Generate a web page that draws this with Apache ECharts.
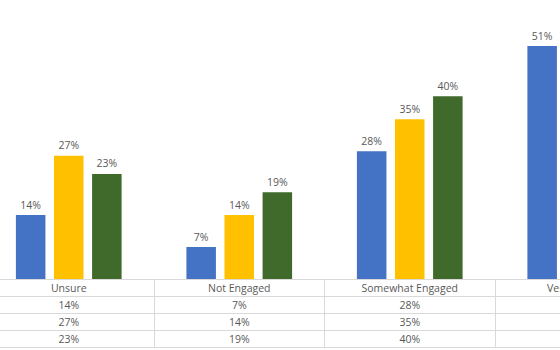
<!DOCTYPE html>
<html>
<head>
<meta charset="utf-8">
<script src="https://cdn.jsdelivr.net/npm/echarts@6/dist/echarts.min.js"></script>
<style>
  html, body { margin: 0; padding: 0; background: #fff; overflow: hidden; width: 560px; height: 350px; }
  /* the chart is wider than the window; only its middle part shows */
  #chart { position: absolute; left: -60px; top: 0; width: 736px; height: 350px; }
</style>
</head>
<body>
<div id="chart"></div>
<script>
// engagement levels and the share of each group per level (percent)
const categories = ['Unsure', 'Not Engaged', 'Somewhat Engaged', 'Very Engaged'];
const seriesNames = ['Group 1', 'Group 2', 'Group 3'];
const group1 = [14, 7, 28, 51];
const group2 = [27, 14, 35, 24];
const group3 = [23, 19, 40, 18];
const colors = ['#4472C4', '#FFC000', '#3F6A2B'];

const values = [group1, group2, group3];
const textColor = '#595959';
const lineColor = '#D9D9D9';
const font = 'Open Sans';
const rowH = 17;

// data table below the plot: one category axis per row
const tableAxes = [];
for (let r = 0; r <= 4; r++) {
  const rowData = r === 0 ? categories : (r <= 3 ? values[r - 1] : categories);
  tableAxes.push({
    type: 'category',
    gridIndex: 0,
    position: 'bottom',
    offset: r * rowH,
    data: categories,
    axisLine: { show: true, lineStyle: { color: lineColor, width: 1 } },
    axisTick: r === 0
      ? { show: true, length: rowH * 4, lineStyle: { color: lineColor, width: 1 } }
      : { show: false },
    axisLabel: r <= 3 ? {
      show: true,
      margin: 3,
      interval: 0,
      color: textColor,
      fontFamily: font,
      fontSize: 10.5,
      lineHeight: 11,
      formatter: (val, idx) => r === 0 ? val : rowData[idx] + '%'
    } : { show: false },
    splitLine: { show: false }
  });
}

const chart = echarts.init(document.getElementById('chart'), null, { renderer: 'svg' });
chart.setOption({
  animation: false,
  backgroundColor: '#fff',
  grid: { left: 43.5, right: 10.5, top: 5, bottom: 71, containLabel: false },
  xAxis: tableAxes,
  yAxis: {
    type: 'value', min: 0, max: 60,
    axisLine: { show: false }, axisTick: { show: false },
    axisLabel: { show: false }, splitLine: { show: false }
  },
  series: seriesNames.map((name, i) => ({
    name,
    type: 'bar',
    xAxisIndex: 0,
    data: values[i],
    barCategoryGap: '38%',
    barGap: '29%',
    itemStyle: { color: colors[i] },
    label: {
      show: true,
      position: 'top',
      distance: 5,
      formatter: '{c}%',
      color: textColor,
      fontFamily: font,
      fontSize: 10.5
    }
  }))
});
</script>
</body>
</html>
